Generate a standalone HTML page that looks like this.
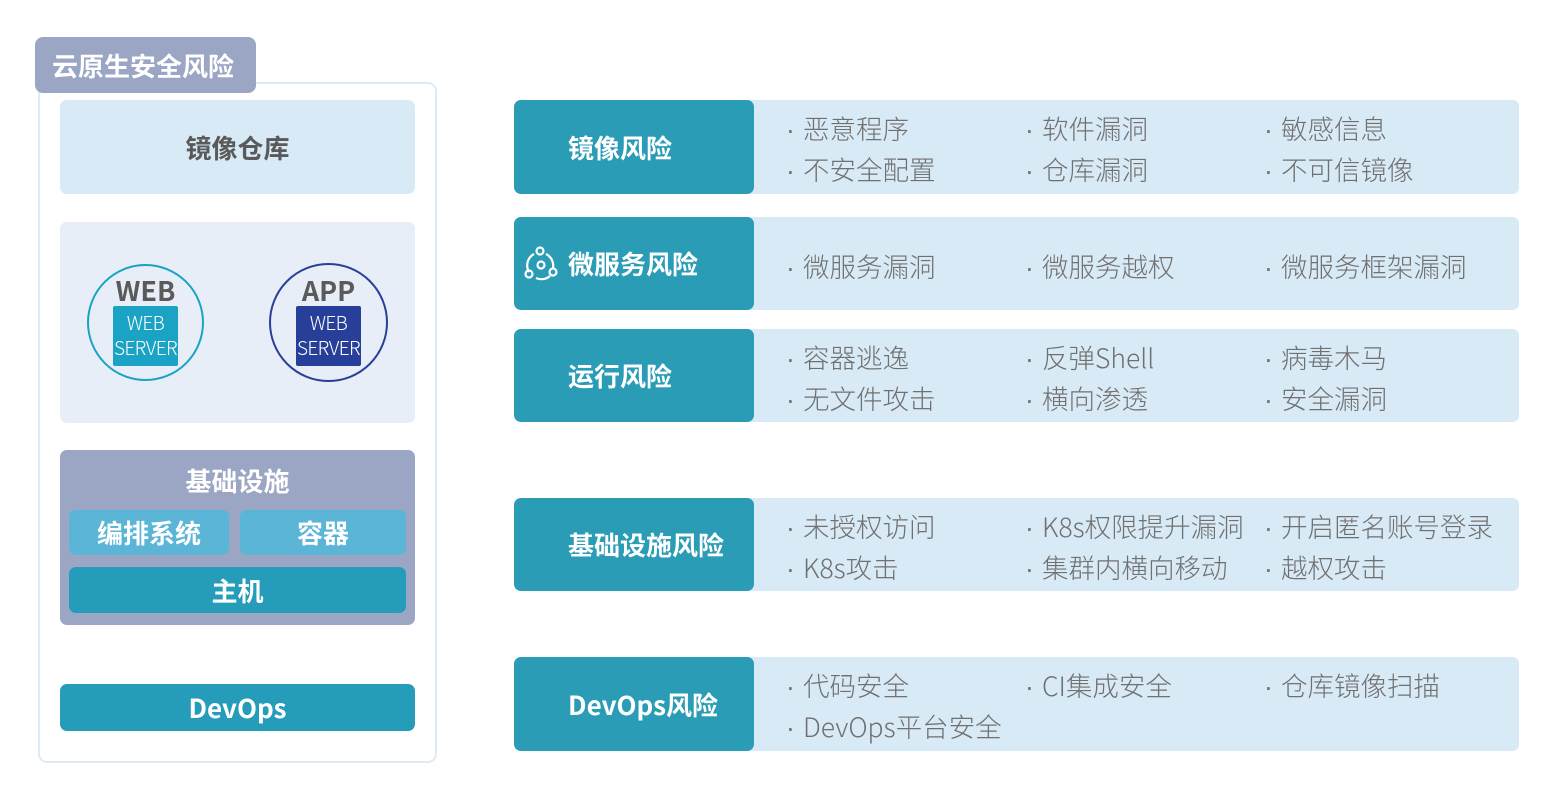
<!DOCTYPE html>
<html><head><meta charset="utf-8"><style>
*{margin:0;padding:0;box-sizing:border-box}
body{width:1565px;height:790px;background:#fff;position:relative;overflow:hidden;font-family:"Noto Sans CJK SC","Liberation Sans",sans-serif}
.a{position:absolute}
.c{display:flex;align-items:center;justify-content:center}
.b{font-weight:bold}
.t{position:absolute;font-size:26.5px;color:#707070;font-weight:300;white-space:nowrap;line-height:30px}
.t i{font-style:normal;display:inline-block;width:17px;font-family:"Liberation Sans",sans-serif}
.dk{position:absolute;left:514px;width:240px;background:#2b9cb6;border-radius:7px;color:#fff;font-weight:bold;font-size:26px;display:flex;align-items:center;padding-left:54px}
.lt{position:absolute;left:745px;width:774px;background:#d8eaf6;border-radius:0 6px 6px 0}
.sv{position:absolute;width:65px;height:60px;border-radius:2px;color:#fff;font-size:19px;font-weight:300;line-height:25px;text-align:center;padding-top:4px;letter-spacing:-0.6px;white-space:nowrap}
</style></head><body>
<div class="a" style="left:38px;top:82px;width:399px;height:681px;border:2px solid #dcebf6;border-radius:9px"></div>
<div class="a c b" style="left:35px;top:37px;width:221px;height:56px;background:#9ba5c4;border-radius:8px;color:#fff;font-size:26px;justify-content:flex-start;padding-left:17px">云原生安全风险</div>
<div class="a c b" style="left:60px;top:100px;width:355px;height:94px;background:#d8eaf6;border-radius:7px;color:#5a5a5a;font-size:26px">镜像仓库</div>
<div class="a" style="left:60px;top:222px;width:355px;height:201px;background:#e8eef7;border-radius:7px"></div>
<div class="a" style="left:87px;top:264px;width:117px;height:117px;border:2.5px solid #1aa3c4;border-radius:50%"></div>
<div class="a c b" style="left:87px;top:273px;width:117px;height:32px;color:#5a5a5a;font-size:27px">WEB</div>
<div class="sv" style="left:113px;top:306px;background:#1aa3c4">WEB<br>SERVER</div>
<div class="a" style="left:269px;top:263px;width:119px;height:119px;border:2.5px solid #28409a;border-radius:50%"></div>
<div class="a c b" style="left:269px;top:273px;width:119px;height:32px;color:#5a5a5a;font-size:27px">APP</div>
<div class="sv" style="left:296px;top:306px;background:#283f9a">WEB<br>SERVER</div>
<div class="a" style="left:60px;top:450px;width:355px;height:175px;background:#9ba5c4;border-radius:7px"></div>
<div class="a c b" style="left:60px;top:463px;width:355px;height:34px;color:#fff;font-size:26px">基础设施</div>
<div class="a c b" style="left:69px;top:510px;width:160px;height:45px;background:#5ab5d6;border-radius:7px;color:#fff;font-size:26px">编排系统</div>
<div class="a c b" style="left:240px;top:510px;width:166px;height:45px;background:#5ab5d6;border-radius:7px;color:#fff;font-size:26px">容器</div>
<div class="a c b" style="left:69px;top:567px;width:337px;height:46px;background:#259cba;border-radius:7px;color:#fff;font-size:26px">主机</div>
<div class="a c b" style="left:60px;top:684px;width:355px;height:47px;background:#259cba;border-radius:7px;color:#fff;font-size:26px">DevOps</div>

<div class="lt" style="top:100px;height:94px"></div><div class="dk" style="top:100px;height:94px">镜像风险</div>
<div class="lt" style="top:217px;height:93px"></div><div class="dk" style="top:217px;height:93px">微服务风险</div>
<svg class="a" style="left:524px;top:246px" width="34" height="36" viewBox="0 0 34 36" fill="none" stroke="#fff" stroke-width="2.2"><path d="M10 8 A13 13 0 0 0 5 26 M12 32 A13 13 0 0 0 26 30 M22 8 A13 13 0 0 1 29 22"/><circle cx="16" cy="5" r="3.5"/><circle cx="5" cy="28" r="3.5"/><circle cx="29" cy="26" r="3.5"/><circle cx="17" cy="19" r="3.5"/></svg>
<div class="lt" style="top:329px;height:93px"></div><div class="dk" style="top:329px;height:93px">运行风险</div>
<div class="lt" style="top:498px;height:93px"></div><div class="dk" style="top:498px;height:93px">基础设施风险</div>
<div class="lt" style="top:657px;height:94px"></div><div class="dk" style="top:657px;height:94px">DevOps风险</div>

<div class="t" style="left:786px;top:113px"><i>·</i>恶意程序</div>
<div class="t" style="left:1025px;top:113px"><i>·</i>软件漏洞</div>
<div class="t" style="left:1264px;top:113px"><i>·</i>敏感信息</div>
<div class="t" style="left:786px;top:154px"><i>·</i>不安全配置</div>
<div class="t" style="left:1025px;top:154px"><i>·</i>仓库漏洞</div>
<div class="t" style="left:1264px;top:154px"><i>·</i>不可信镜像</div>

<div class="t" style="left:786px;top:251px"><i>·</i>微服务漏洞</div>
<div class="t" style="left:1025px;top:251px"><i>·</i>微服务越权</div>
<div class="t" style="left:1264px;top:251px"><i>·</i>微服务框架漏洞</div>

<div class="t" style="left:786px;top:342px"><i>·</i>容器逃逸</div>
<div class="t" style="left:1025px;top:342px"><i>·</i>反弹Shell</div>
<div class="t" style="left:1264px;top:342px"><i>·</i>病毒木马</div>
<div class="t" style="left:786px;top:383px"><i>·</i>无文件攻击</div>
<div class="t" style="left:1025px;top:383px"><i>·</i>横向渗透</div>
<div class="t" style="left:1264px;top:383px"><i>·</i>安全漏洞</div>

<div class="t" style="left:786px;top:511px"><i>·</i>未授权访问</div>
<div class="t" style="left:1025px;top:511px"><i>·</i>K8s权限提升漏洞</div>
<div class="t" style="left:1264px;top:511px"><i>·</i>开启匿名账号登录</div>
<div class="t" style="left:786px;top:552px"><i>·</i>K8s攻击</div>
<div class="t" style="left:1025px;top:552px"><i>·</i>集群内横向移动</div>
<div class="t" style="left:1264px;top:552px"><i>·</i>越权攻击</div>

<div class="t" style="left:786px;top:670px"><i>·</i>代码安全</div>
<div class="t" style="left:1025px;top:670px"><i>·</i>CI集成安全</div>
<div class="t" style="left:1264px;top:670px"><i>·</i>仓库镜像扫描</div>
<div class="t" style="left:786px;top:711px"><i>·</i>DevOps平台安全</div>
</body></html>
